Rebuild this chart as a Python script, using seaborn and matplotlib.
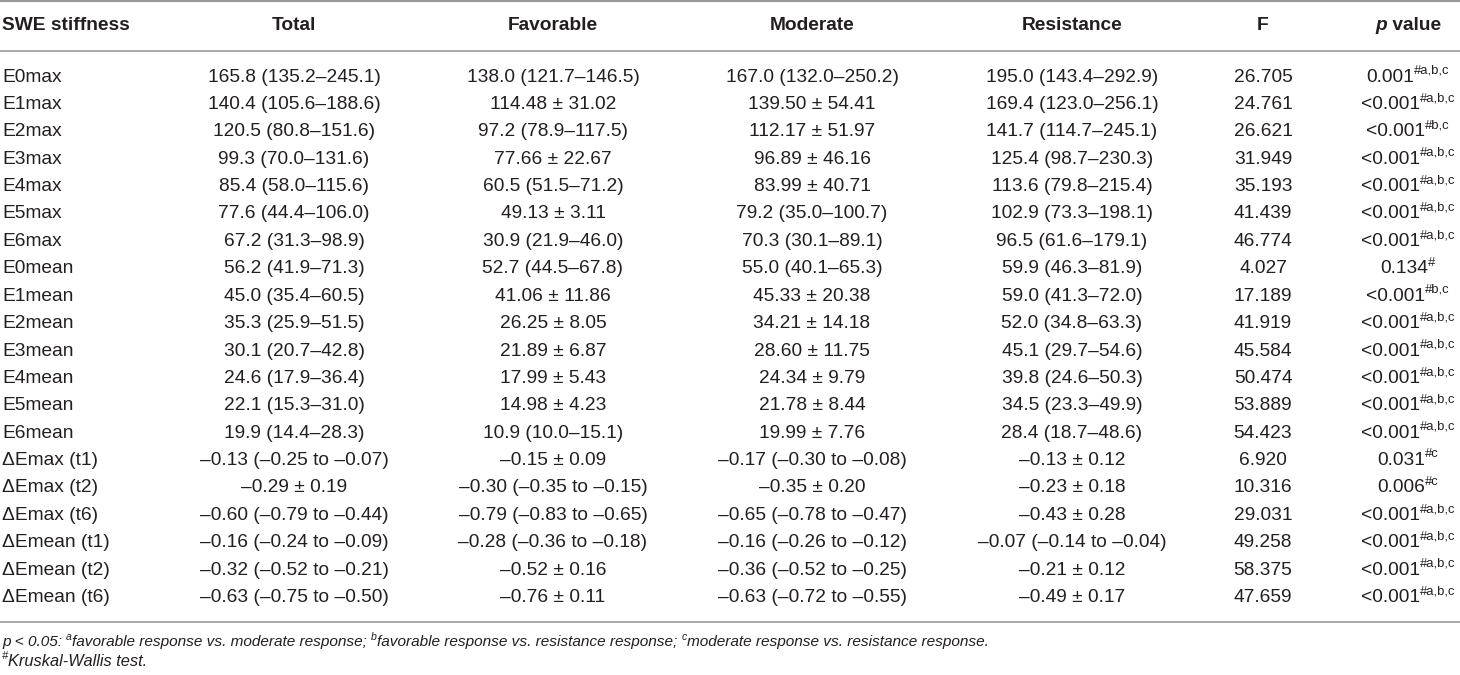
import matplotlib
matplotlib.use("Agg")
import matplotlib.pyplot as plt
import seaborn as sns
import pandas as pd

# table contents
labels = ["E0max", "E1max", "E2max", "E3max", "E4max", "E5max", "E6max",
          "E0mean", "E1mean", "E2mean", "E3mean", "E4mean", "E5mean", "E6mean",
          "ΔEmax (t1)", "ΔEmax (t2)", "ΔEmax (t6)",
          "ΔEmean (t1)", "ΔEmean (t2)", "ΔEmean (t6)"]
total = ["165.8 (135.2–245.1)", "140.4 (105.6–188.6)", "120.5 (80.8–151.6)",
         "99.3 (70.0–131.6)", "85.4 (58.0–115.6)", "77.6 (44.4–106.0)",
         "67.2 (31.3–98.9)", "56.2 (41.9–71.3)", "45.0 (35.4–60.5)",
         "35.3 (25.9–51.5)", "30.1 (20.7–42.8)", "24.6 (17.9–36.4)",
         "22.1 (15.3–31.0)", "19.9 (14.4–28.3)", "–0.13 (–0.25 to –0.07)",
         "–0.29 ± 0.19", "–0.60 (–0.79 to –0.44)", "–0.16 (–0.24 to –0.09)",
         "–0.32 (–0.52 to –0.21)", "–0.63 (–0.75 to –0.50)"]
favorable = ["138.0 (121.7–146.5)", "114.48 ± 31.02", "97.2 (78.9–117.5)",
             "77.66 ± 22.67", "60.5 (51.5–71.2)", "49.13 ± 3.11",
             "30.9 (21.9–46.0)", "52.7 (44.5–67.8)", "41.06 ± 11.86",
             "26.25 ± 8.05", "21.89 ± 6.87", "17.99 ± 5.43", "14.98 ± 4.23",
             "10.9 (10.0–15.1)", "–0.15 ± 0.09", "–0.30 (–0.35 to –0.15)",
             "–0.79 (–0.83 to –0.65)", "–0.28 (–0.36 to –0.18)",
             "–0.52 ± 0.16", "–0.76 ± 0.11"]
moderate = ["167.0 (132.0–250.2)", "139.50 ± 54.41", "112.17 ± 51.97",
            "96.89 ± 46.16", "83.99 ± 40.71", "79.2 (35.0–100.7)",
            "70.3 (30.1–89.1)", "55.0 (40.1–65.3)", "45.33 ± 20.38",
            "34.21 ± 14.18", "28.60 ± 11.75", "24.34 ± 9.79", "21.78 ± 8.44",
            "19.99 ± 7.76", "–0.17 (–0.30 to –0.08)", "–0.35 ± 0.20",
            "–0.65 (–0.78 to –0.47)", "–0.16 (–0.26 to –0.12)",
            "–0.36 (–0.52 to –0.25)", "–0.63 (–0.72 to –0.55)"]
resistance = ["195.0 (143.4–292.9)", "169.4 (123.0–256.1)", "141.7 (114.7–245.1)",
              "125.4 (98.7–230.3)", "113.6 (79.8–215.4)", "102.9 (73.3–198.1)",
              "96.5 (61.6–179.1)", "59.9 (46.3–81.9)", "59.0 (41.3–72.0)",
              "52.0 (34.8–63.3)", "45.1 (29.7–54.6)", "39.8 (24.6–50.3)",
              "34.5 (23.3–49.9)", "28.4 (18.7–48.6)", "–0.13 ± 0.12",
              "–0.23 ± 0.18", "–0.43 ± 0.28", "–0.07 (–0.14 to –0.04)",
              "–0.21 ± 0.12", "–0.49 ± 0.17"]
f_vals = ["26.705", "24.761", "26.621", "31.949", "35.193", "41.439", "46.774",
          "4.027", "17.189", "41.919", "45.584", "50.474", "53.889", "54.423",
          "6.920", "10.316", "29.031", "49.258", "58.375", "47.659"]
p_vals = ["0.001", "<0.001", "<0.001", "<0.001", "<0.001", "<0.001", "<0.001",
          "0.134", "<0.001", "<0.001", "<0.001", "<0.001", "<0.001", "<0.001",
          "0.031", "0.006", "<0.001", "<0.001", "<0.001", "<0.001"]
p_sups = ["#a,b,c", "#a,b,c", "#b,c", "#a,b,c", "#a,b,c", "#a,b,c", "#a,b,c",
          "#", "#b,c", "#a,b,c", "#a,b,c", "#a,b,c", "#a,b,c", "#a,b,c",
          "#c", "#c", "#a,b,c", "#a,b,c", "#a,b,c", "#a,b,c"]
columns = ["Total", "Favorable", "Moderate", "Resistance", "F"]

df = pd.DataFrame({"label": labels, "Total": total, "Favorable": favorable,
                   "Moderate": moderate, "Resistance": resistance, "F": f_vals,
                   "p": p_vals, "sup": p_sups})

sns.set_style("white")
plt.rcParams["font.family"] = ["Liberation Sans", "DejaVu Sans"]

W, H = 1460, 675
fig = plt.figure(figsize=(W / 100, H / 100), dpi=100)
ax = fig.add_axes([0, 0, 1, 1])
ax.set_xlim(0, W)
ax.set_ylim(H, 0)
ax.axis("off")
renderer = fig.canvas.get_renderer()

ink = "#231f20"
rule = "#9a9a9a"
fs = 13.8
col_x = {"Total": 294, "Favorable": 553, "Moderate": 812, "Resistance": 1072, "F": 1263}
p_x = 1408
y_head = 26
y0 = 77
dy = 27.4


def width_of(s, **kw):
    t = ax.text(0, 0, s, **kw)
    w = t.get_window_extent(renderer).width
    t.remove()
    return w


def draw_pieces(pieces, x, y, align="left", size=fs, **kw):
    # pieces: list of (text, superscript?, extra style)
    ws = []
    for s, sup, st in pieces:
        kwa = dict(kw, **st)
        ws.append(width_of(s, fontsize=size * (0.68 if sup else 1), **kwa))
    total_w = sum(ws)
    cx = x - total_w / 2 if align == "center" else x
    for (s, sup, st), w in zip(pieces, ws):
        kwa = dict(kw, **st)
        if sup:
            ax.text(cx, y - size * 0.45, s, fontsize=size * 0.68, va="center",
                    ha="left", color=ink, **kwa)
        else:
            ax.text(cx, y, s, fontsize=size, va="center", ha="left", color=ink, **kwa)
        cx += w


# rules
ax.axhline(1, color=rule, lw=1.6)
ax.axhline(51, color=rule, lw=1.2)
ax.axhline(622, color=rule, lw=1.2)

# header
ax.text(2, y_head, "SWE stiffness", fontsize=fs, fontweight="bold", va="center", color=ink)
for c in columns:
    ax.text(col_x[c], y_head, c, fontsize=fs, fontweight="bold", ha="center",
            va="center", color=ink)
draw_pieces([("p", False, {"fontstyle": "italic"}), (" value", False, {})],
            p_x, y_head, align="center", fontweight="bold")

# body
for i, row in df.iterrows():
    y = y0 + i * dy
    ax.text(2, y, row["label"], fontsize=fs, va="center", color=ink)
    for c in columns:
        ax.text(col_x[c], y, row[c], fontsize=fs, ha="center", va="center", color=ink)
    draw_pieces([(row["p"], False, {}), (row["sup"], True, {})], p_x, y, align="center")

# footnotes
it = {"fontstyle": "italic"}
draw_pieces([("p < 0.05: ", False, it), ("a", True, it),
             ("favorable response vs. moderate response; ", False, it), ("b", True, it),
             ("favorable response vs. resistance response; ", False, it), ("c", True, it),
             ("moderate response vs. resistance response.", False, it)],
            2, 642, size=11.1)
draw_pieces([("#", True, it), ("Kruskal-Wallis test.", False, it)], 2, 661, size=11.8)

fig.savefig("out.png", dpi=100)
